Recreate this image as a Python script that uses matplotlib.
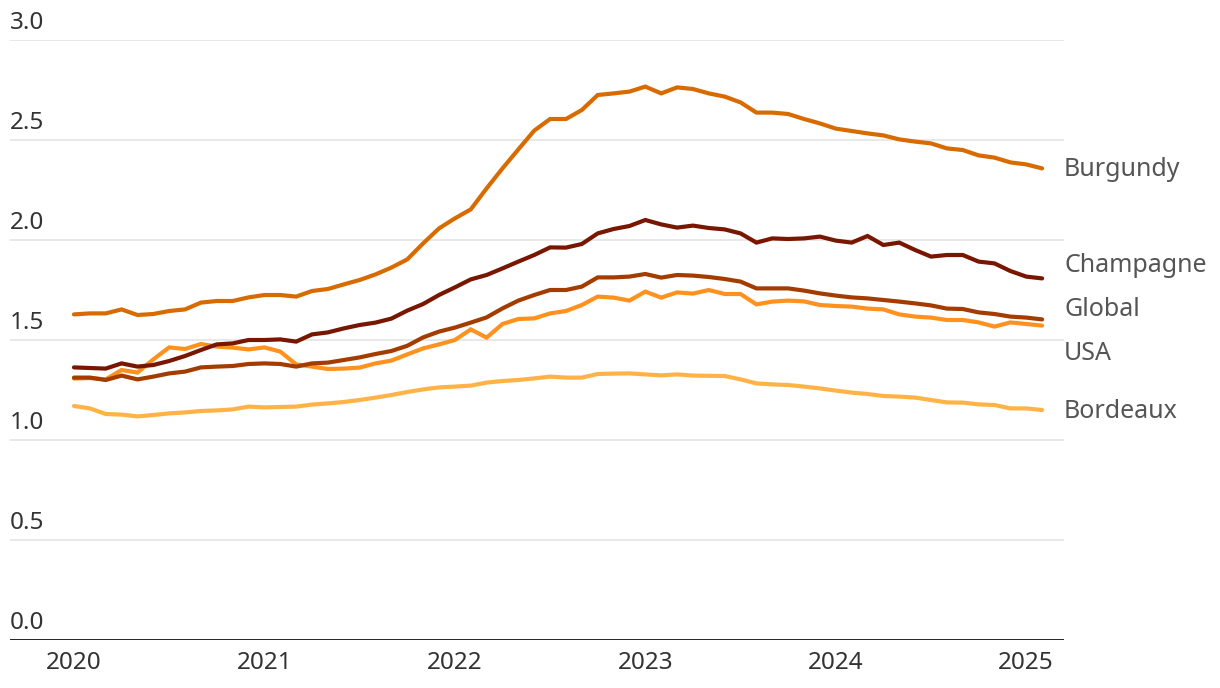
import matplotlib.pyplot as plt
from matplotlib import transforms

# Monthly index, Jan 2020 .. Feb 2025
months = list(range(62))
year_ticks = [0, 12, 24, 36, 48, 60]
year_labels = ["2020", "2021", "2022", "2023", "2024", "2025"]
y_ticks = [0.0, 0.5, 1.0, 1.5, 2.0, 2.5, 3.0]

burgundy = [1.628, 1.633, 1.633, 1.653, 1.625, 1.63, 1.645, 1.653, 1.687, 1.695,
            1.695, 1.713, 1.725, 1.725, 1.717, 1.745, 1.755, 1.778, 1.80, 1.828,
            1.862, 1.903, 1.983, 2.058, 2.108, 2.153, 2.258, 2.358, 2.453, 2.547,
            2.605, 2.605, 2.65, 2.725, 2.733, 2.742, 2.767, 2.733, 2.763, 2.755,
            2.733, 2.717, 2.688, 2.637, 2.637, 2.63, 2.605, 2.583, 2.557, 2.545,
            2.533, 2.523, 2.503, 2.492, 2.483, 2.458, 2.45, 2.423, 2.412, 2.388,
            2.378, 2.358]
champagne = [1.363, 1.36, 1.357, 1.383, 1.367, 1.375, 1.395, 1.42, 1.45, 1.478,
             1.483, 1.50, 1.50, 1.503, 1.492, 1.528, 1.538, 1.558, 1.575, 1.587,
             1.607, 1.647, 1.68, 1.725, 1.763, 1.803, 1.825, 1.858, 1.892, 1.925,
             1.963, 1.962, 1.98, 2.033, 2.055, 2.07, 2.10, 2.078, 2.062, 2.072,
             2.06, 2.053, 2.033, 1.987, 2.008, 2.005, 2.008, 2.017, 1.997, 1.987,
             2.02, 1.975, 1.987, 1.95, 1.917, 1.925, 1.925, 1.892, 1.883, 1.845,
             1.817, 1.808]
global_idx = [1.312, 1.312, 1.30, 1.322, 1.303, 1.317, 1.333, 1.342, 1.363, 1.367,
              1.37, 1.38, 1.383, 1.38, 1.367, 1.383, 1.387, 1.40, 1.413, 1.43,
              1.445, 1.471, 1.513, 1.542, 1.562, 1.587, 1.613, 1.658, 1.697, 1.725,
              1.75, 1.75, 1.767, 1.813, 1.813, 1.817, 1.83, 1.812, 1.825, 1.822,
              1.815, 1.805, 1.792, 1.758, 1.758, 1.758, 1.747, 1.733, 1.722, 1.713,
              1.708, 1.70, 1.692, 1.683, 1.673, 1.657, 1.655, 1.638, 1.63, 1.617,
              1.612, 1.603]
usa = [1.307, 1.31, 1.303, 1.35, 1.337, 1.403, 1.463, 1.455, 1.48, 1.467,
       1.462, 1.453, 1.463, 1.442, 1.378, 1.367, 1.355, 1.357, 1.362, 1.383,
       1.397, 1.428, 1.458, 1.478, 1.50, 1.553, 1.512, 1.58, 1.605, 1.608,
       1.633, 1.645, 1.675, 1.717, 1.712, 1.697, 1.742, 1.712, 1.738, 1.732,
       1.75, 1.73, 1.73, 1.678, 1.692, 1.697, 1.693, 1.675, 1.67, 1.667,
       1.657, 1.653, 1.628, 1.617, 1.612, 1.60, 1.60, 1.588, 1.567, 1.588,
       1.58, 1.572]
bordeaux = [1.17, 1.158, 1.13, 1.127, 1.118, 1.125, 1.133, 1.138, 1.145, 1.148,
            1.153, 1.167, 1.163, 1.165, 1.167, 1.177, 1.183, 1.19, 1.20, 1.212,
            1.225, 1.24, 1.253, 1.263, 1.267, 1.272, 1.287, 1.295, 1.30, 1.308,
            1.317, 1.312, 1.312, 1.33, 1.332, 1.333, 1.328, 1.323, 1.328, 1.322,
            1.321, 1.32, 1.303, 1.283, 1.278, 1.275, 1.267, 1.258, 1.247, 1.237,
            1.23, 1.22, 1.217, 1.212, 1.20, 1.188, 1.187, 1.178, 1.175, 1.158,
            1.158, 1.15]

# ordre de dessin : du fond vers le dessus
series = [
    ("Bordeaux", bordeaux, "#ffb347"),
    ("USA", usa, "#ff921f"),
    ("Global", global_idx, "#a43c00"),
    ("Champagne", champagne, "#781600"),
    ("Burgundy", burgundy, "#d86b00"),
]
# positions verticales des étiquettes (pour éviter les chevauchements)
label_y = {"Burgundy": 2.35, "Champagne": 1.875, "Global": 1.65,
           "USA": 1.435, "Bordeaux": 1.145}

plt.rcParams['font.family'] = ['Noto Sans', 'DejaVu Sans']
fs = 17.5

fig = plt.figure(figsize=(12.2, 6.88), dpi=100)
ax = fig.add_axes([10 / 1220, 48 / 688, 1054 / 1220, 600 / 688])

for name, vals, color in series:
    ax.plot(months, vals, color=color, lw=3, solid_capstyle="round",
            solid_joinstyle="miter", zorder=3)
    ax.annotate(name, xy=(months[-1], label_y[name]), xytext=(22, 0),
                textcoords="offset pixels", va="center", ha="left",
                fontsize=18, color="#555555", annotation_clip=False)

ax.set_xlim(-4.03, 62.38)
ax.set_ylim(0, 3.0)

# grille horizontale
for v in y_ticks[1:]:
    ax.axhline(v, color="#e6e6e6", lw=1.3, zorder=1)
ax.axhline(0, color="#111111", lw=2, zorder=4)

# étiquettes de l'axe y au-dessus des lignes
off = transforms.offset_copy(ax.get_yaxis_transform(), fig=fig, x=0, y=5, units="dots")
for v in y_ticks:
    ax.text(0, v, f"{v:.1f}", transform=off, ha="left", va="bottom",
            fontsize=fs, color="#333333")

ax.set_yticks([])
ax.set_xticks(year_ticks)
ax.set_xticklabels(year_labels, fontsize=fs, color="#333333")
ax.tick_params(axis="x", length=0, pad=8)
for s in ax.spines.values():
    s.set_visible(False)

fig.savefig("out.png", dpi=100)
